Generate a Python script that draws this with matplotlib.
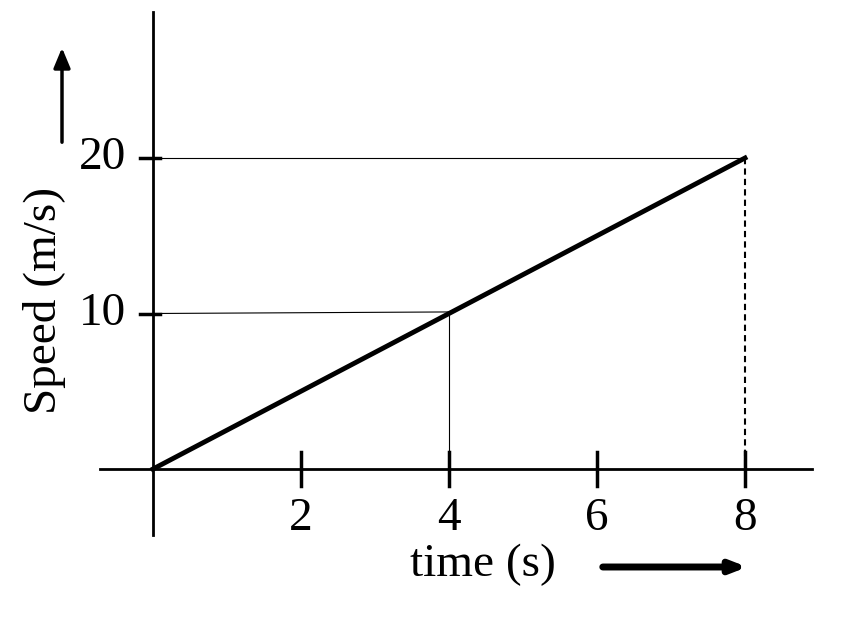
import matplotlib.pyplot as plt

# data
time = [0, 8]
speed = [0, 20]
x_ticks = [2, 4, 6, 8]
y_ticks = [10, 20]

plt.rcParams['font.family'] = ['Liberation Serif', 'DejaVu Serif']

fig = plt.figure(figsize=(8.59, 6.40), dpi=100)
ax = fig.add_axes([0, 0, 1, 1])
# map pixels: origin at (153, 469), 74 px per second, 15.55 px per m/s
ax.set_xlim(-153 / 74, (859 - 153) / 74)
ax.set_ylim(-(640 - 469) / 15.55, 469 / 15.55)
ax.axis('off')

# axes lines
ax.plot([(100 - 153) / 74, (812 - 153) / 74], [0, 0], color='black', lw=2)
ax.plot([0, 0], [-(535 - 469) / 15.55, (469 - 12) / 15.55], color='black', lw=2)

# ticks
for t in x_ticks:
    ax.plot([t, t], [-1.1, 1.1], color='black', lw=2.5)
    ax.text(t, -3.2, str(t), ha='center', va='center', fontsize=34)
for v in y_ticks:
    ax.plot([-0.18, 0.1], [v, v], color='black', lw=2.5)
    ax.text(-0.68, v, str(v), ha='center', va='center', fontsize=34)

# speed line
ax.plot(time, speed, color='black', lw=3.5)

# guide lines
ax.plot([0, 4], [10, 10.1], color='black', lw=0.8)
ax.plot([4, 4], [10.1, 0], color='black', lw=0.8)
ax.plot([0, 8], [20, 20], color='black', lw=0.8)
ax.plot([8, 8], [20, 0], color='black', lw=1.5, ls=(0, (3, 2)))

# axis labels
ax.text((45 - 153) / 74, (469 - 300) / 15.55, 'Speed (m/s)', rotation=90,
        ha='center', va='center', fontsize=34)
ax.annotate('', xy=((62 - 153) / 74, (469 - 45) / 15.55),
            xytext=((62 - 153) / 74, (469 - 145) / 15.55),
            arrowprops=dict(arrowstyle='-|>,head_width=0.5,head_length=1.2',
                            color='black', lw=2.5))
ax.text((483 - 153) / 74, -(565 - 469) / 15.55, 'time (s)',
        ha='center', va='center', fontsize=34)
ax.annotate('', xy=((750 - 153) / 74, -(567 - 469) / 15.55),
            xytext=((600 - 153) / 74, -(567 - 469) / 15.55),
            arrowprops=dict(arrowstyle='-|>,head_width=0.35,head_length=0.9',
                            color='black', lw=5))

fig.savefig('out.png', dpi=100)
